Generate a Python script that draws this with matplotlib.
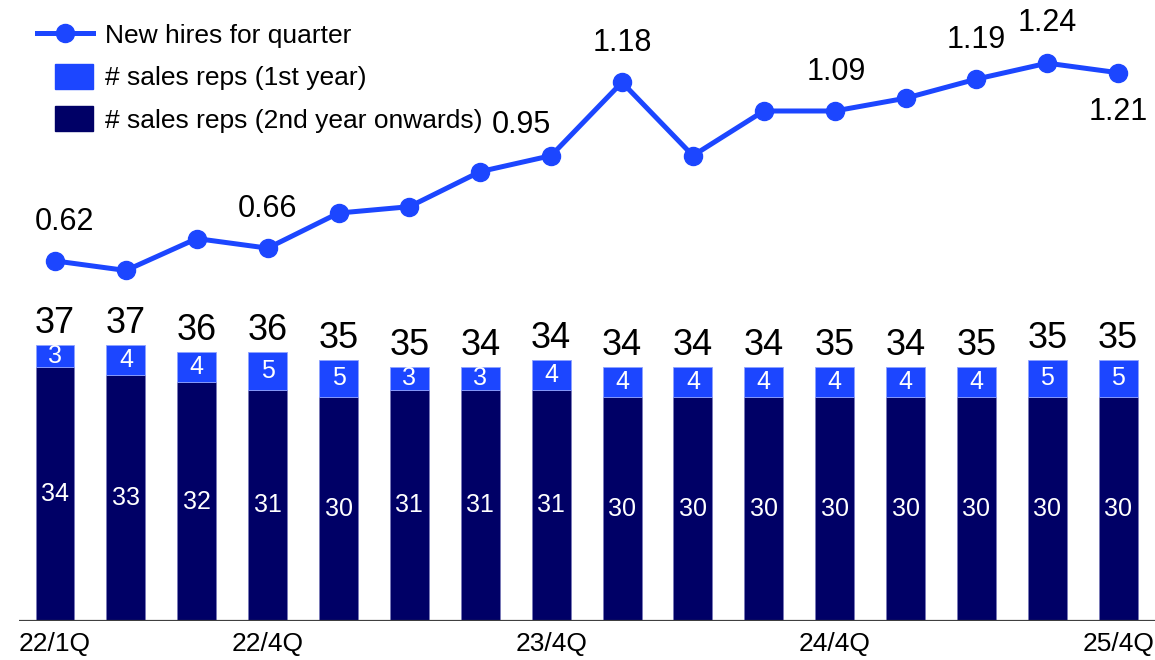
import matplotlib.pyplot as plt
from matplotlib.lines import Line2D
from matplotlib.patches import Patch, Rectangle
from matplotlib.legend_handler import HandlerPatch

plt.rcParams['font.family'] = ['Liberation Sans', 'DejaVu Sans']

quarters = ['22/1Q', '22/2Q', '22/3Q', '22/4Q', '23/1Q', '23/2Q', '23/3Q', '23/4Q',
            '24/1Q', '24/2Q', '24/3Q', '24/4Q', '25/1Q', '25/2Q', '25/3Q', '25/4Q']
reps_2nd_year = [34, 33, 32, 31, 30, 31, 31, 31, 30, 30, 30, 30, 30, 30, 30, 30]
reps_1st_year = [3, 4, 4, 5, 5, 3, 3, 4, 4, 4, 4, 4, 4, 4, 5, 5]
reps_total = [37, 37, 36, 36, 35, 35, 34, 34, 34, 34, 34, 35, 34, 35, 35, 35]
new_hires = [0.62, 0.59, 0.69, 0.66, 0.77, 0.79, 0.90, 0.95,
             1.18, 0.95, 1.09, 1.09, 1.13, 1.19, 1.24, 1.21]
# which hire values get a label, and where it sits (dx in x units, dy in points)
hire_labels = {0: (0.14, 28), 3: (0.0, 28), 7: (-0.42, 22), 8: (0.0, 28),
               11: (0.03, 28), 13: (0.0, 28), 14: (0.0, 29), 15: (0.0, -28)}
shown_ticks = ['22/1Q', '22/4Q', '23/4Q', '24/4Q', '25/4Q']

dark = '#000066'
blue = '#1c46ff'

fig = plt.figure(figsize=(11.55, 6.6), dpi=100)
ax = fig.add_axes([19 / 1155, 39 / 660, 1136 / 1155, 621 / 660])
x = list(range(len(quarters)))

ax.bar(x, reps_2nd_year, width=0.55, color=dark, edgecolor='#7a7ab8', linewidth=0.6)
ax.bar(x, reps_1st_year, width=0.55, bottom=reps_2nd_year, color=blue,
       edgecolor='#8fa2ff', linewidth=0.6)

for i in x:
    ax.text(i, reps_2nd_year[i] / 2, str(reps_2nd_year[i]), ha='center', va='center',
            color='white', fontsize=18)
    ax.text(i, reps_2nd_year[i] + reps_1st_year[i] / 2, str(reps_1st_year[i]),
            ha='center', va='center', color='white', fontsize=18)
    ax.annotate(str(reps_total[i]), (i, reps_2nd_year[i] + reps_1st_year[i]),
                xytext=(0, 3), textcoords='offset points', ha='center', va='bottom',
                fontsize=26)

ax.set_xlim(-0.508, 15.52)
ax.set_ylim(0, 83.2)
ax.axhline(0, color='#404040', linewidth=1.6)
ax.set_xticks([quarters.index(q) for q in shown_ticks])
ax.set_xticklabels(shown_ticks, fontsize=19)
ax.tick_params(axis='x', length=0, pad=8)
ax.set_yticks([])
for s in ax.spines.values():
    s.set_visible(False)

ax2 = ax.twinx()
ax2.plot(x, new_hires, color=blue, linewidth=3.6, marker='o', markersize=13)
for i, (dx, dy) in hire_labels.items():
    ax2.annotate(f'{new_hires[i]:.2f}', (i, new_hires[i]), xytext=(dx * 51, dy),
                 textcoords='offset points', ha='center', va='center', fontsize=22)
ax2.set_ylim(-0.509, 1.438)
ax2.set_yticks([])
for s in ax2.spines.values():
    s.set_visible(False)


def square_patch(legend, orig_handle, xdescent, ydescent, width, height, fontsize):
    # narrower swatch, right-aligned with the line handle
    return Rectangle((-xdescent + 0.32 * width, -ydescent), 0.68 * width, height)


handles = [Line2D([], [], color=blue, linewidth=3.6, marker='o', markersize=13),
           Patch(color=blue), Patch(color=dark)]
labels = ['New hires for quarter', '# sales reps (1st year)', '# sales reps (2nd year onwards)']
fig.legend(handles, labels, loc='upper left', bbox_to_anchor=(37 / 1155, 1 - 22 / 660),
           frameon=False, fontsize=19, handlelength=2.12, handleheight=1.06,
           labelspacing=0.6, handletextpad=0.45, borderpad=0, borderaxespad=0,
           handler_map={Patch: HandlerPatch(patch_func=square_patch)})

fig.savefig('out.png', dpi=100)
